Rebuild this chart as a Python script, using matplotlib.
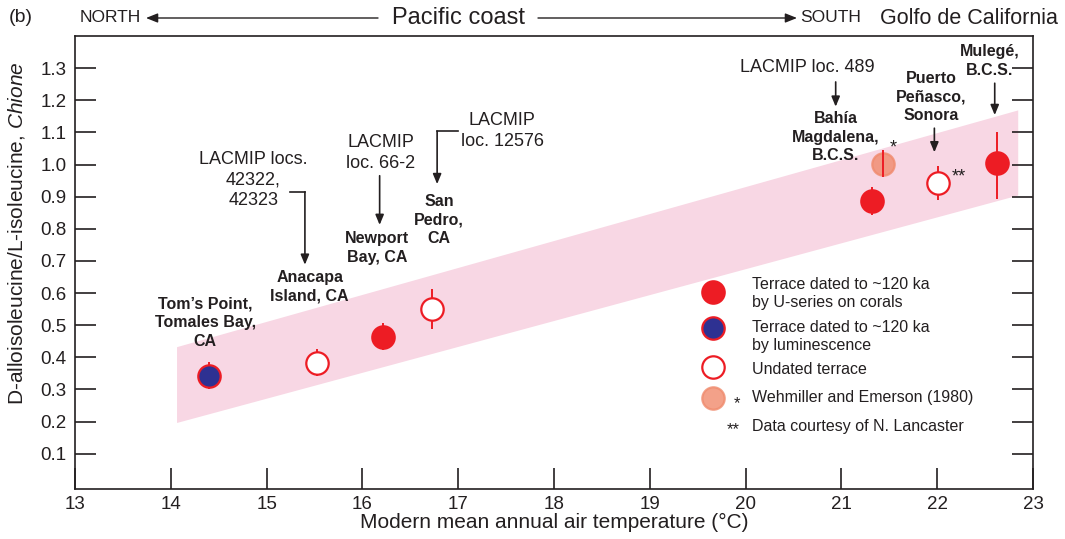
import numpy as np
import matplotlib.pyplot as plt

plt.rcParams['font.family'] = ['Liberation Sans', 'DejaVu Sans']
plt.rcParams['mathtext.fontset'] = 'custom'
plt.rcParams['mathtext.rm'] = 'Liberation Sans'
plt.rcParams['mathtext.it'] = 'Liberation Sans:italic'

#site temperatures and racemization ratios
sites = ["Tom's Point", "Anacapa", "Newport", "San Pedro",
         "Bahia Magdalena", "Bahia Magdalena (W&E)", "Puerto Penasco", "Mulege"]
temp_c = [14.40, 15.53, 16.22, 16.73, 21.32, 21.43, 22.01, 22.62]
ratio = [0.343, 0.383, 0.464, 0.551, 0.887, 1.003, 0.943, 1.005]
err_low = [0.042, 0.042, 0.042, 0.063, 0.044, 0.042, 0.053, 0.112]
err_high = [0.042, 0.042, 0.042, 0.063, 0.044, 0.042, 0.053, 0.095]
kind = ['lum', 'undated', 'coral', 'undated', 'coral', 'wehmiller', 'undated', 'coral']

#pink band
band_x = [14.06, 22.84]
band_lo = [0.197, 0.905]
band_hi = [0.433, 1.17]

red = '#ed1c24'
ink = '#231f20'
styles = {
    'coral': dict(facecolor=red, edgecolor=red, alpha=1.0, zorder=4),
    'lum': dict(facecolor='#2e3192', edgecolor=red, alpha=1.0, zorder=4),
    'undated': dict(facecolor='white', edgecolor=red, alpha=1.0, zorder=4),
    'wehmiller': dict(facecolor='#f08a6c', edgecolor='#f08a6c', alpha=0.8, zorder=2),
}

fig = plt.figure(figsize=(10.65, 5.39), dpi=100)
ax = fig.add_axes([0.0704, 0.0928, 0.8996, 0.8404])

ax.fill_between(band_x, band_lo, band_hi, color='#f8d7e4', linewidth=0, zorder=1)

ax.errorbar(temp_c, ratio, yerr=[err_low, err_high], fmt='none', ecolor=red,
            elinewidth=1.4, capsize=0, zorder=3)
for k, st in styles.items():
    xs = [t for t, kk in zip(temp_c, kind) if kk == k]
    ys = [r for r, kk in zip(ratio, kind) if kk == k]
    ax.scatter(xs, ys, s=260, linewidths=1.6, **st)

ax.set_xlim(13, 23)
ax.set_ylim(-0.01, 1.4)
ax.set_xticks(np.arange(13, 24, 1))
ax.set_yticks(np.round(np.arange(0.1, 1.31, 0.1), 1))
ax.tick_params(axis='both', direction='in', length=15, width=1.2, labelsize=13.5, colors=ink)
ax.tick_params(axis='y', right=True, pad=6)
ax.tick_params(axis='x', pad=5)
for sp in ax.spines.values():
    sp.set_linewidth(1.2)
    sp.set_color(ink)
ax.set_xlabel('Modern mean annual air temperature (°C)', fontsize=15, labelpad=0, color=ink)
ax.set_ylabel('D-alloisoleucine/L-isoleucine, $\\it{Chione}$', fontsize=15, color=ink)
ax.yaxis.set_label_coords(-0.05, 0.565)

#site names
bold = dict(fontsize=11.5, fontweight='bold', ha='center', va='center', color=ink,
            linespacing=1.3)
ax.text(14.36, 0.508, 'Tom’s Point,\nTomales Bay,\nCA', **bold)
ax.text(15.45, 0.619, 'Anacapa\nIsland, CA', **bold)
ax.text(16.15, 0.740, 'Newport\nBay, CA', **bold)
ax.text(16.80, 0.828, 'San\nPedro,\nCA', **bold)
ax.text(20.94, 1.085, 'Bahía\nMagdalena,\nB.C.S.', **bold)
ax.text(21.94, 1.21, 'Puerto\nPeñasco,\nSonora', **bold)
ax.text(22.55, 1.322, 'Mulegé,\nB.C.S.', **bold)

norm = dict(fontsize=13, ha='center', va='center', color=ink, linespacing=1.25)
ax.text(14.86, 0.952, 'LACMIP locs.\n42322,\n42323', **norm)
ax.text(16.19, 1.036, 'LACMIP\nloc. 66-2', **norm)
ax.text(17.46, 1.104, 'LACMIP\nloc. 12576', **norm)
ax.text(20.64, 1.303, 'LACMIP loc. 489', **norm)

arrow = dict(arrowstyle='-|>,head_length=0.6,head_width=0.25', color=ink,
             lw=1.2, shrinkA=0, shrinkB=0)
def down_arrow(x, y0, y1):
    ax.annotate('', xy=(x, y1), xytext=(x, y0), arrowprops=arrow)

down_arrow(20.94, 1.257, 1.18)
down_arrow(21.97, 1.113, 1.038)
down_arrow(22.60, 1.253, 1.154)
down_arrow(16.18, 0.965, 0.812)
ax.plot([15.24, 15.40], [0.915, 0.915], color=ink, lw=1.2)
down_arrow(15.40, 0.915, 0.688)
ax.plot([17.0, 16.78], [1.104, 1.104], color=ink, lw=1.2)
down_arrow(16.78, 1.104, 0.939)

ax.text(21.54, 1.051, '*', fontsize=13, ha='center', va='center', color=ink)
ax.text(22.23, 0.962, '**', fontsize=13, ha='center', va='center', color=ink)

#legend drawn by hand
leg = dict(fontsize=11.5, ha='left', va='center', color=ink, linespacing=1.3)
ax.scatter([19.66], [0.604], s=260, linewidths=1.6, **styles['coral'])
ax.scatter([19.66], [0.492], s=260, linewidths=1.6, **styles['lum'])
ax.scatter([19.66], [0.371], s=260, linewidths=1.6, **styles['undated'])
ax.scatter([19.66], [0.272], s=260, linewidths=1.6, **styles['wehmiller'])
ax.text(20.07, 0.599, 'Terrace dated to ~120 ka\nby U-series on corals', **leg)
ax.text(20.07, 0.465, 'Terrace dated to ~120 ka\nby luminescence', **leg)
ax.text(20.07, 0.361, 'Undated terrace', **leg)
ax.text(20.07, 0.274, 'Wehmiller and Emerson (1980)', **leg)
ax.text(19.91, 0.255, '*', fontsize=12, ha='center', va='center', color=ink)
ax.text(19.87, 0.176, '**', fontsize=12, ha='center', va='center', color=ink)
ax.text(20.07, 0.184, 'Data courtesy of N. Lancaster', **leg)

#header line
hy = 1 - 18 / 539
fig.text(0.008, hy, '(b)', fontsize=14, ha='left', va='center', color=ink)
fig.text(80 / 1065, hy, 'NORTH', fontsize=12.5, ha='left', va='center', color=ink)
fig.text(458 / 1065, hy, 'Pacific coast', fontsize=17, ha='center', va='center', color=ink)
fig.text(800 / 1065, hy, 'SOUTH', fontsize=12.5, ha='left', va='center', color=ink)
fig.text(1058 / 1065, hy, 'Golfo de California', fontsize=15.5, ha='right', va='center',
         color=ink)
harrow = dict(arrowstyle='-|>,head_length=0.5,head_width=0.2', color=ink, lw=1.0,
              shrinkA=0, shrinkB=0, mutation_scale=14)
fig.add_artist(plt.matplotlib.patches.FancyArrowPatch(
    (378 / 1065, hy), (146 / 1065, hy), transform=fig.transFigure, **harrow))
fig.add_artist(plt.matplotlib.patches.FancyArrowPatch(
    (538 / 1065, hy), (797 / 1065, hy), transform=fig.transFigure, **harrow))

fig.savefig('out.png', dpi=100)
